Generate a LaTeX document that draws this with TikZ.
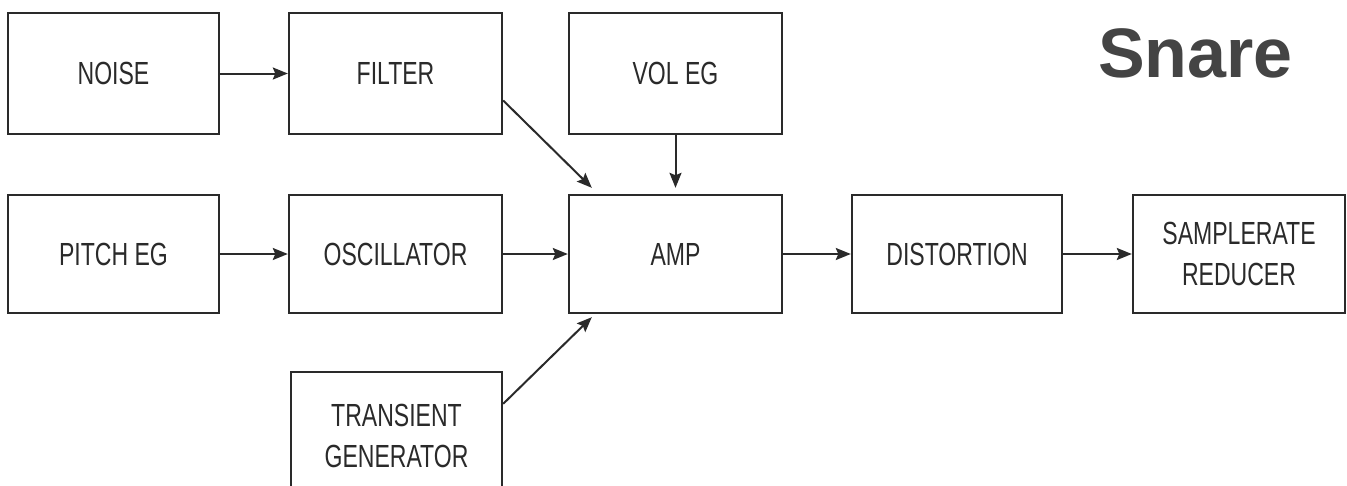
\documentclass[tikz,border=0pt]{standalone}
\usepackage{fontspec}
\setmainfont{Liberation Sans}[FakeStretch=0.72]
\newfontfamily\snarefont{Liberation Sans}
\usetikzlibrary{arrows.meta,calc}
\definecolor{boxline}{HTML}{2A2A2A}
\definecolor{txt}{HTML}{2A2A2A}
\definecolor{titlecol}{HTML}{444444}
\begin{document}
\begin{tikzpicture}[x=1pt,y=-1pt,
  blk/.style={draw=boxline,line width=2.4pt,fill=white,inner sep=0pt,
    font=\fontsize{32}{41}\selectfont,text=txt,align=center},
  conn/.style={draw=boxline,line width=2pt,-{Stealth[length=15pt,width=12pt,inset=2.5pt]}}]
\useasboundingbox (0,0) rectangle (1347,485);
\clip (0,0) rectangle (1347,485);
\fill[white] (0,0) rectangle (1347,485);
% row 1
\node[blk,minimum width=211pt,minimum height=121pt] (noise) at (113.5,73.5) {NOISE};
\node[blk,minimum width=213pt,minimum height=121pt] (filter) at (395.5,73.5) {FILTER};
\node[blk,minimum width=213pt,minimum height=121pt] (vol) at (675.5,73.5) {VOL EG};
% row 2
\node[blk,minimum width=211pt,minimum height=118pt] (pitch) at (113.5,254) {PITCH EG};
\node[blk,minimum width=213pt,minimum height=118pt] (osc) at (395.5,254) {OSCILLATOR};
\node[blk,minimum width=213pt,minimum height=118pt] (amp) at (675.5,254) {AMP};
\node[blk,minimum width=210pt,minimum height=118pt] (dist) at (957,254) {DISTORTION};
\node[blk,minimum width=212pt,minimum height=118pt] (samp) at (1239,254) {SAMPLERATE\\REDUCER};
% row 3 (cut off at the bottom edge)
\node[blk,minimum width=211pt,minimum height=128pt] (trans) at (396.5,436) {TRANSIENT\\GENERATOR};
% title
\node[anchor=base west,inner sep=0pt,text=titlecol,font=\snarefont\bfseries\fontsize{70}{82}\selectfont] (title) at (1098,77) {Snare};
% connectors
\draw[conn] (noise.east) -- (filter.west);
\draw[conn] (pitch.east) -- (osc.west);
\draw[conn] (osc.east) -- (amp.west);
\draw[conn] (amp.east) -- (dist.west);
\draw[conn] (dist.east) -- (samp.west);
\draw[conn] ($(filter.east)+(0,27)$) -- ($(amp.north west)+(24,-6)$);
\draw[conn] (vol.south) -- ($(amp.north)+(0,-6)$);
\draw[conn] ($(trans.north east)+(0,33)$) -- ($(amp.south west)+(24,3)$);
\end{tikzpicture}
\end{document}
